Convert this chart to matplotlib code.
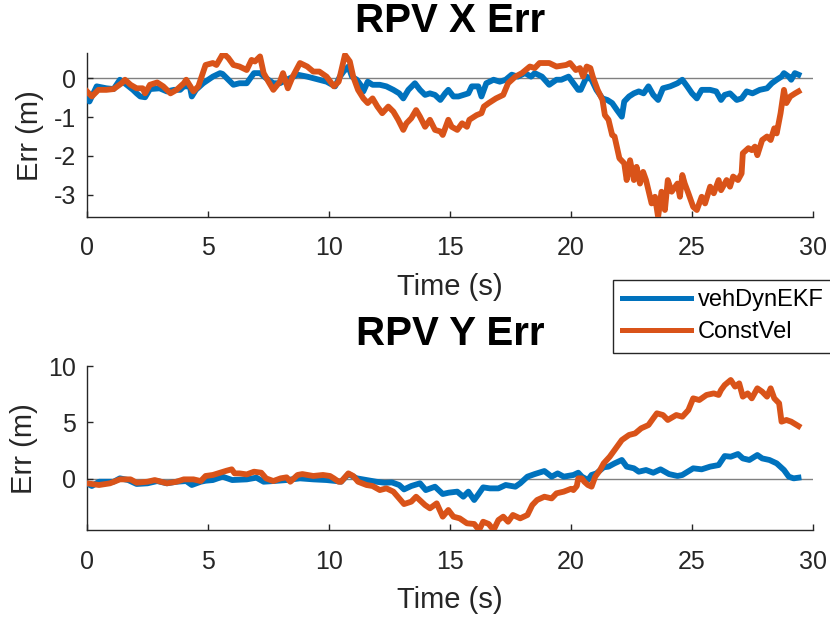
import numpy as np
import matplotlib
matplotlib.use("Agg")
import matplotlib.pyplot as plt

plt.rcParams['font.family'] = ['Liberation Sans', 'DejaVu Sans']
plt.rcParams['axes.unicode_minus'] = False

# ---- X error (m) ----
x_ekf_t = [0.0, 0.1, 0.4, 0.8, 1.1, 1.36, 1.64, 1.9, 2.05, 2.2, 2.4, 2.6, 3.0, 3.3, 3.6, 3.85,
           4.0, 4.25, 4.33, 4.5, 4.8, 5.2, 5.5, 5.6, 6.05, 6.3, 6.6, 6.9, 7.15, 7.4, 7.7, 7.97,
           8.25, 8.7, 9.1, 9.35, 9.9, 10.25, 10.45, 10.6, 10.8, 10.95, 11.15, 11.3, 11.42, 11.6,
           11.8, 12.1, 12.37, 12.66, 12.9, 13.07, 13.28, 13.55, 13.76, 13.97, 14.17, 14.38, 14.6,
           14.8, 14.93, 15.14, 15.35, 15.55, 15.76, 15.9, 16.17, 16.3, 16.5, 16.8, 17.06, 17.3,
           17.55, 17.8, 18.1, 18.35, 18.5, 18.8, 19.1, 19.4, 19.6, 19.9, 20.1, 20.3, 20.4, 20.65,
           20.85, 21.05, 21.3, 21.5, 21.7, 21.9, 22.1, 22.2, 22.4, 22.6, 22.8, 23.0, 23.2, 23.4,
           23.6, 23.8, 24.1, 24.4, 24.6, 24.8, 25.0, 25.2, 25.4, 25.75, 26.0, 26.2, 26.35, 26.57,
           26.85, 27.05, 27.26, 27.5, 27.8, 28.1, 28.3, 28.5, 28.7, 28.8, 29.0, 29.1, 29.25, 29.4]
x_ekf = [-0.47, -0.60, -0.21, -0.26, -0.28, -0.04, -0.17, -0.30, -0.39, -0.47, -0.49, -0.28,
         -0.26, -0.34, -0.30, -0.30, -0.21, -0.21, -0.47, -0.30, -0.13, 0.04, 0.13, 0.11, -0.17,
         -0.13, -0.13, 0.13, 0.13, 0.0, -0.13, -0.13, -0.04, 0.09, 0.04, 0.0, -0.09, -0.21, 0.04,
         0.17, 0.30, 0.04, -0.04, -0.17, -0.34, -0.09, -0.17, -0.17, -0.21, -0.30, -0.39, -0.52,
         -0.30, -0.13, -0.30, -0.43, -0.39, -0.43, -0.56, -0.39, -0.30, -0.47, -0.47, -0.43,
         -0.39, -0.21, -0.21, -0.47, -0.13, -0.04, -0.09, -0.04, 0.09, 0.04, 0.13, 0.04, 0.13,
         0.04, -0.17, -0.04, -0.04, 0.04, -0.13, -0.30, -0.30, 0.04, -0.04, -0.30, -0.52, -0.56,
         -0.64, -0.82, -0.99, -0.60, -0.47, -0.39, -0.34, -0.39, -0.21, -0.43, -0.56, -0.26,
         -0.21, -0.13, -0.04, -0.21, -0.39, -0.52, -0.30, -0.30, -0.34, -0.56, -0.43, -0.39,
         -0.56, -0.52, -0.34, -0.39, -0.30, -0.26, -0.13, -0.04, 0.04, 0.13, 0.04, -0.04, 0.13,
         0.09]

x_cv_t = [0.0, 0.2, 0.47, 0.8, 1.1, 1.43, 1.57, 1.8, 2.05, 2.3, 2.4, 2.6, 2.9, 3.15, 3.45, 3.7,
          4.0, 4.1, 4.4, 4.6, 4.9, 5.2, 5.35, 5.63, 5.84, 6.05, 6.3, 6.6, 6.8, 6.94, 7.15, 7.3,
          7.5, 7.7, 7.97, 8.1, 8.3, 8.5, 8.8, 9.1, 9.35, 9.6, 9.9, 10.2, 10.4, 10.66, 10.86, 11.0,
          11.2, 11.42, 11.6, 11.8, 12.0, 12.2, 12.45, 12.66, 12.86, 13.07, 13.2, 13.4, 13.6,
          13.76, 13.97, 14.17, 14.38, 14.6, 14.7, 14.93, 15.07, 15.3, 15.5, 15.7, 15.8, 16.1,
          16.3, 16.4, 16.6, 16.9, 17.2, 17.4, 17.7, 17.97, 18.3, 18.5, 18.7, 19.1, 19.4, 19.8,
          19.96, 20.2, 20.37, 20.5, 20.65, 20.8, 20.9, 21.1, 21.3, 21.4, 21.55, 21.7, 21.8, 22.0,
          22.2, 22.3, 22.44, 22.6, 22.71, 22.85, 22.98, 23.1, 23.33, 23.47, 23.6, 23.74, 23.88,
          24.0, 24.16, 24.4, 24.5, 24.6, 24.7, 24.85, 25.05, 25.2, 25.4, 25.54, 25.75, 25.9, 26.1,
          26.2, 26.43, 26.57, 26.7, 26.9, 27.05, 27.1, 27.33, 27.47, 27.6, 27.7, 27.9, 28.1,
          28.25, 28.4, 28.5, 28.66, 28.8, 28.9, 29.06, 29.26, 29.4]
x_cv = [-0.34, -0.47, -0.30, -0.30, -0.28, -0.13, -0.04, -0.17, -0.26, -0.26, -0.39, -0.17,
        -0.11, -0.21, -0.39, -0.30, -0.13, -0.04, -0.34, -0.21, 0.34, 0.39, 0.34, 0.64, 0.52,
        0.34, 0.30, 0.21, 0.47, 0.43, 0.56, 0.13, -0.09, -0.30, -0.09, 0.13, -0.26, 0.04, 0.39,
        0.30, 0.17, 0.17, 0.04, -0.21, -0.09, 0.60, 0.43, 0.04, -0.30, -0.52, -0.64, -0.52,
        -0.73, -0.90, -0.73, -0.86, -1.07, -1.33, -1.16, -1.03, -0.82, -0.99, -1.25, -1.07,
        -1.33, -1.37, -1.46, -1.07, -1.25, -1.33, -1.16, -1.25, -1.07, -0.95, -0.90, -0.73,
        -0.64, -0.52, -0.43, -0.13, 0.04, 0.13, 0.30, 0.26, 0.39, 0.39, 0.30, 0.34, 0.39, 0.21,
        0.26, 0.04, 0.30, 0.26, 0.04, -0.30, -0.56, -0.95, -1.07, -1.46, -1.50, -2.06, -2.19,
        -2.62, -2.11, -2.62, -2.28, -2.71, -2.41, -2.62, -3.22, -3.05, -3.57, -2.92, -3.39,
        -2.62, -2.92, -2.71, -3.05, -2.49, -2.71, -2.96, -3.31, -3.39, -3.05, -3.22, -2.79,
        -2.96, -2.62, -2.88, -2.62, -2.79, -2.53, -2.62, -2.45, -1.93, -1.80, -1.85, -1.76,
        -1.98, -1.59, -1.50, -1.59, -1.29, -1.42, -0.90, -0.30, -0.64, -0.47, -0.39, -0.34]

# ---- Y error (m) ----
y_ekf_t = [0.0, 0.2, 0.5, 1.1, 1.36, 1.7, 2.05, 2.5, 2.9, 3.3, 3.7, 4.1, 4.33, 4.7, 4.9, 5.2,
           5.6, 6.0, 6.6, 7.0, 7.3, 7.7, 8.25, 8.8, 9.35, 9.9, 10.3, 10.5, 10.8, 11.15, 11.55,
           11.95, 12.3, 12.6, 12.9, 13.1, 13.4, 13.76, 14.0, 14.38, 14.7, 14.95, 15.3, 15.55,
           15.76, 16.0, 16.17, 16.37, 16.65, 17.0, 17.3, 17.7, 17.9, 18.2, 18.5, 18.9, 19.2,
           19.45, 19.7, 20.1, 20.3, 20.45, 20.7, 20.85, 21.05, 21.35, 21.55, 21.8, 22.1, 22.3,
           22.6, 22.8, 23.1, 23.4, 23.7, 24.05, 24.4, 24.6, 25.05, 25.4, 25.75, 26.1, 26.35,
           26.6, 26.9, 27.1, 27.37, 27.7, 27.9, 28.2, 28.5, 28.8, 29.0, 29.2, 29.4]
y_ekf = [-0.41, -0.65, -0.27, -0.27, 0.03, -0.12, -0.47, -0.41, -0.21, -0.41, -0.27, -0.21,
         -0.56, -0.27, -0.18, -0.12, 0.18, -0.12, -0.06, 0.09, -0.27, -0.21, -0.12, 0.03, -0.06,
         -0.12, -0.21, -0.27, 0.41, 0.03, -0.12, -0.27, -0.36, -0.33, -0.56, -0.95, -0.65,
         -0.41, -1.01, -0.71, -1.36, -1.24, -1.15, -1.60, -1.15, -1.89, -1.39, -0.77, -0.86,
         -0.86, -0.56, -0.71, -0.41, 0.18, 0.41, 0.68, 0.18, 0.47, 0.18, 0.33, 0.53, 0.18,
         -0.12, 0.33, 0.47, 1.01, 1.07, 1.36, 1.66, 1.07, 0.92, 0.62, 0.77, 0.53, 0.83, 0.41,
         0.24, 0.33, 0.92, 0.83, 1.07, 1.21, 2.01, 1.95, 2.19, 1.80, 1.66, 2.10, 1.80, 1.66,
         1.36, 0.77, 0.18, 0.03, 0.09]

y_cv_t = [0.0, 0.5, 0.95, 1.36, 1.8, 2.05, 2.5, 2.8, 3.3, 3.7, 4.0, 4.4, 4.7, 4.9, 5.2, 5.5,
          5.77, 5.98, 6.1, 6.3, 6.6, 6.9, 7.2, 7.4, 7.7, 8.0, 8.25, 8.4, 8.7, 8.9, 9.35, 9.75,
          10.04, 10.2, 10.4, 10.5, 10.8, 11.0, 11.2, 11.55, 11.8, 12.1, 12.37, 12.66, 12.9, 13.1,
          13.4, 13.6, 13.97, 14.17, 14.45, 14.7, 14.93, 15.14, 15.4, 15.7, 16.0, 16.2, 16.37,
          16.6, 16.8, 17.0, 17.2, 17.4, 17.6, 17.9, 18.2, 18.4, 18.6, 18.9, 19.2, 19.4, 19.7,
          20.0, 20.1, 20.24, 20.3, 20.45, 20.55, 20.7, 20.85, 21.0, 21.2, 21.35, 21.6, 21.8,
          22.1, 22.4, 22.65, 22.9, 23.2, 23.4, 23.55, 23.8, 24.0, 24.35, 24.6, 24.85, 25.05,
          25.3, 25.6, 25.9, 26.1, 26.2, 26.35, 26.6, 26.78, 26.95, 27.1, 27.3, 27.47, 27.7,
          27.9, 28.1, 28.25, 28.4, 28.6, 28.7, 28.9, 29.1, 29.4]
y_cv = [-0.41, -0.56, -0.41, -0.06, -0.06, -0.36, -0.27, -0.12, -0.41, -0.27, -0.06, -0.06,
        -0.21, 0.24, 0.33, 0.53, 0.71, 0.83, 0.47, 0.47, 0.38, 0.62, 0.53, 0.03, -0.21, 0.03,
        0.12, -0.27, 0.33, 0.41, 0.24, 0.33, 0.24, 0.03, -0.27, -0.27, 0.47, 0.24, -0.27,
        -0.56, -0.65, -1.01, -0.86, -1.15, -1.75, -2.25, -2.04, -1.60, -2.34, -2.63, -2.19,
        -3.37, -2.78, -3.37, -3.52, -3.96, -4.02, -4.56, -3.82, -4.02, -4.56, -3.67, -3.37,
        -3.82, -3.22, -3.52, -3.22, -2.34, -1.89, -1.60, -1.75, -1.30, -1.15, -0.90, -1.01,
        -0.65, 0.03, 0.03, -0.27, -0.56, -0.71, 0.18, 0.77, 1.36, 1.95, 2.54, 3.43, 3.88, 4.02,
        4.47, 4.76, 5.36, 5.80, 5.65, 5.21, 5.65, 5.50, 6.09, 7.13, 6.98, 7.43, 7.57, 7.43,
        7.87, 8.31, 8.76, 8.17, 8.46, 7.28, 7.57, 7.13, 8.02, 7.72, 7.28, 8.02, 7.13, 6.69,
        5.06, 5.21, 5.06, 4.67]

series_names = ['vehDynEKF', 'ConstVel']
x_ticks = [0, 5, 10, 15, 20, 25, 30]
top_yticks = [-3, -2, -1, 0]
bot_yticks = [0, 5, 10]

C_EKF = '#0072BD'
C_CV = '#D95319'
AX_COL = '#262626'
LW = 4.2

W, H = 830, 617
fig = plt.figure(figsize=(W / 100, H / 100), dpi=100)


def px_axes(left, top, right, bottom):
    return fig.add_axes([left / W, 1 - bottom / H, (right - left) / W, (bottom - top) / H])


def style(ax, title, yticks, ylim):
    ax.axhline(0, color='#808080', lw=1.0, zorder=1)
    ax.set_xlim(0, 30)
    ax.set_ylim(*ylim)
    ax.set_xticks(x_ticks)
    ax.set_yticks(yticks)
    for s in ('top', 'right'):
        ax.spines[s].set_visible(False)
    for s in ('left', 'bottom'):
        ax.spines[s].set_color(AX_COL)
        ax.spines[s].set_linewidth(1.0)
    ax.tick_params(direction='in', length=4.5, width=1.0, color=AX_COL,
                   labelsize=18, labelcolor='#262626')
    ax.tick_params(axis='x', pad=14)
    ax.tick_params(axis='y', pad=8)
    ax.set_xlabel('Time (s)', fontsize=21, color='#262626', labelpad=9)
    ax.set_ylabel('Err (m)', fontsize=21, color='#262626', labelpad=7)
    ax.set_title(title, fontsize=29, fontweight='bold', color='black', pad=15)


ax1 = px_axes(87, 53.3, 813, 217)
l1, = ax1.plot(x_ekf_t, x_ekf, color=C_EKF, lw=LW, zorder=3, solid_joinstyle='round')
l2, = ax1.plot(x_cv_t, x_cv, color=C_CV, lw=LW, zorder=4, solid_joinstyle='round')
style(ax1, 'RPV X Err', top_yticks, (-3.57, 0.64))

ax2 = px_axes(87, 366, 813, 530.3)
ax2.plot(y_ekf_t, y_ekf, color=C_EKF, lw=LW, zorder=3, solid_joinstyle='round')
ax2.plot(y_cv_t, y_cv, color=C_CV, lw=LW, zorder=4, solid_joinstyle='round')
style(ax2, 'RPV Y Err', bot_yticks, (-4.58, 10))

leg = fig.legend([l1, l2], series_names, loc='upper left',
                 bbox_to_anchor=(613 / W, 1 - 280 / H), borderaxespad=0,
                 fontsize=17, frameon=True, fancybox=False, framealpha=1,
                 edgecolor=AX_COL, handlelength=2.9, handletextpad=0.3,
                 borderpad=0.4, labelspacing=0.42)
leg.get_frame().set_linewidth(1.0)
for line in leg.get_lines():
    line.set_linewidth(3.6)

fig.savefig('out.png', dpi=100, facecolor='white')
